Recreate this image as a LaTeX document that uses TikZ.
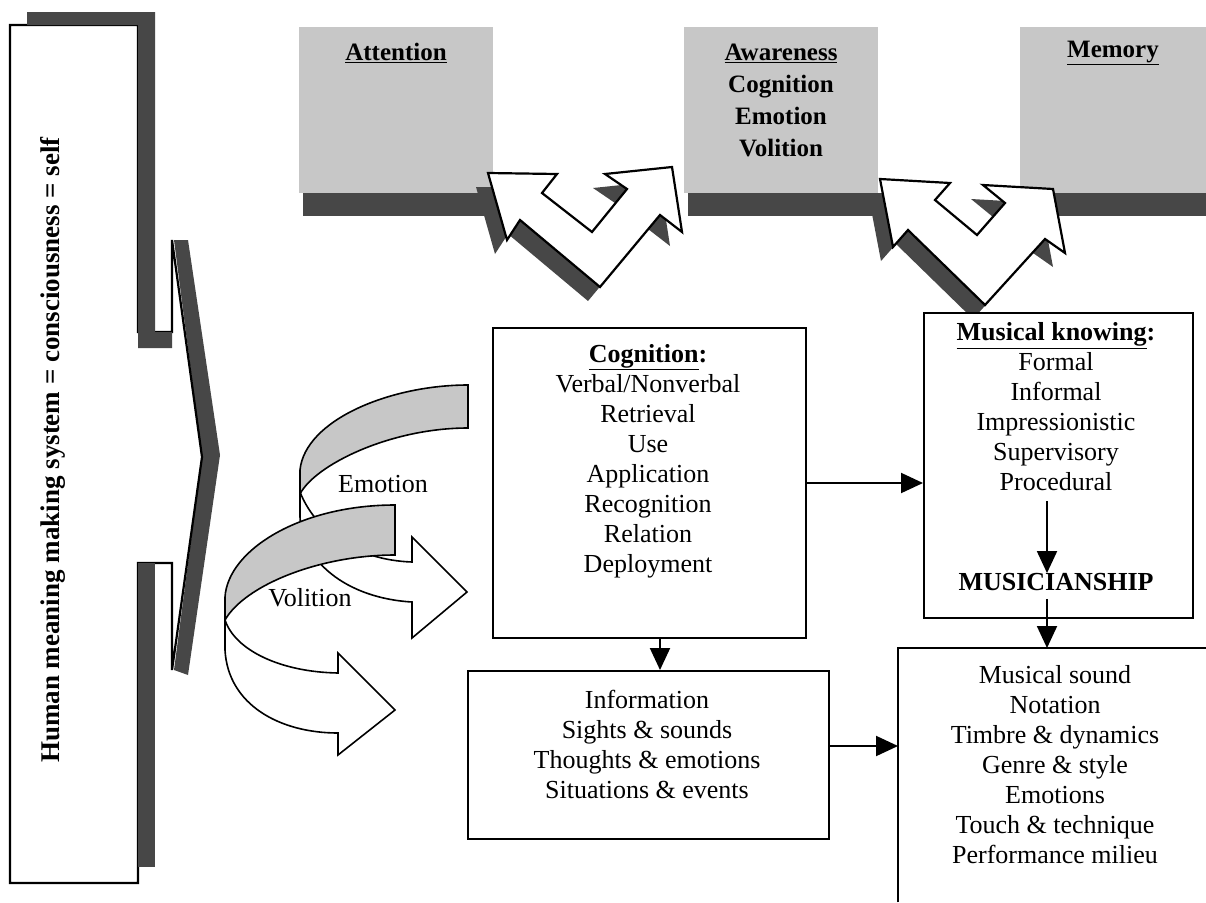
\documentclass[tikz,border=0pt]{standalone}
\usepackage{fontspec}
\setmainfont{Liberation Serif}
\usetikzlibrary{arrows.meta}
\begin{document}
\begin{tikzpicture}[x=1pt,y=-1pt,
  box/.style={draw, line width=2pt, inner sep=0pt, fill=white},
  topbox/.style={fill=black!22, inner sep=0pt},
  txt/.style={align=center, font=\fontsize{26}{30}\selectfont, inner sep=0pt},
  toptxt/.style={align=center, font=\fontsize{25}{32}\selectfont\bfseries, inner sep=0pt},
  arr/.style={line width=2pt, -{Triangle[length=22pt,width=20pt]}},
  lightshade/.style={fill=black!22},
  darkshade/.style={fill=black!72},
  outl/.style={draw, line width=2.2pt, line join=miter, fill=white}
]
\useasboundingbox (0,0) rectangle (1206,902);
\fill[white] (0,0) rectangle (1206,902);

% ---------- top boxes ----------
\node[topbox, minimum width=194, minimum height=166, anchor=north west] (attbox) at (299,27) {};
\node[topbox, minimum width=194, minimum height=166, anchor=north west] (awabox) at (684,27) {};
\node[topbox, minimum width=186, minimum height=166, anchor=north west] (membox) at (1020,27) {};
\fill[darkshade] (303,193) rectangle (500,216);
\fill[darkshade] (688,193) rectangle (885,216);
\fill[darkshade] (1024,193) rectangle (1206,216);
\node[toptxt] (att) at (396,53) {\underline{Attention}};
\node[toptxt] (awa) at (781,100) {\underline{Awareness}\\Cognition\\Emotion\\Volition};
\node[toptxt] (mem) at (1113,53) {\underline{Memory}};

% ---------- double arrows ----------
\fill[darkshade, shift={(-12,14)}] (488,173) -- (557,174) -- (542,193) -- (592,232) -- (627,189) -- (605,174) -- (672,167) -- (682,232) -- (660,215) -- (600,287) -- (520,220) -- (507,240) -- cycle;
\path[outl] (488,173) -- (557,174) -- (542,193) -- (592,232) -- (627,189) -- (605,174) -- (672,167) -- (682,232) -- (660,215) -- (600,287) -- (520,220) -- (507,240) -- cycle;
\fill[darkshade, shift={(-12,14)}] (880,179) -- (950,183) -- (935,200) -- (977,235) -- (1005,203) -- (983,185) -- (1053,189) -- (1065,253) -- (1045,239) -- (985,305) -- (908,230) -- (893,247) -- cycle;
\path[outl] (880,179) -- (950,183) -- (935,200) -- (977,235) -- (1005,203) -- (983,185) -- (1053,189) -- (1065,253) -- (1045,239) -- (985,305) -- (908,230) -- (893,247) -- cycle;

% ---------- left callout ----------
\fill[darkshade] (174,240) -- (188,240) -- (220,455) -- (188,675) -- (174,670) -- (202,457) -- cycle;
\path[outl] (10,25) -- (138,25) -- (138,332) -- (172,332) -- (172,240) -- (202,457) -- (172,670) -- (172,563) -- (138,563) -- (138,883) -- (10,883) -- cycle;
\fill[darkshade] (27,12) -- (155,12) -- (155,332) -- (172,332) -- (172,348) -- (138,348) -- (138,25) -- (27,25) -- cycle;
\fill[darkshade] (138,563) rectangle (155,867);
\node[rotate=90, font=\fontsize{27}{30}\selectfont\bfseries, inner sep=0pt] (self) at (53,450) {Human meaning making system = consciousness = self};

% ---------- curved ribbons ----------
% Emotion
\path[draw, line width=1.6pt, lightshade] (468,385) .. controls (390,385) and (305,420) .. (300,470) -- (300,494) .. controls (315,465) and (390,428) .. (468,428) -- cycle;
\path[draw, line width=1.6pt, fill=white] (300,492) -- (300,517) .. controls (302,560) and (345,598) .. (412,602) -- (412,638) -- (467,592) -- (412,537) -- (412,562) .. controls (355,560) and (315,530) .. (300,492) -- cycle;
% Volition
\path[draw, line width=1.6pt, fill=white] (225,620) -- (225,650) .. controls (228,705) and (280,733) .. (338,733) -- (338,755) -- (395,710) -- (338,653) -- (338,673) .. controls (280,672) and (235,650) .. (225,620) -- cycle;
\path[draw, line width=1.6pt, lightshade] (395,505) .. controls (300,505) and (228,550) .. (225,597) -- (225,620) .. controls (245,585) and (320,555) .. (395,555) -- cycle;
\node[txt] (emo) at (383,484) {Emotion};
\node[txt] (vol) at (310,598) {Volition};

% ---------- main boxes ----------
\node[box, minimum width=313, minimum height=310, anchor=north west] (cog) at (492,327) {};
\node[txt] (cogt) at (648,461) {\textbf{\underline{Cognition}:}\\Verbal/Nonverbal\\Retrieval\\Use\\Application\\Recognition\\Relation\\Deployment};

\node[box, minimum width=269, minimum height=305, anchor=north west] (mk) at (923,312) {};
\node[txt] (mkt) at (1056,407) {\textbf{\underline{Musical knowing}:}\\Formal\\Informal\\Impressionistic\\Supervisory\\Procedural};
\node[txt, font=\fontsize{26}{30}\selectfont\bfseries] (mus) at (1056,582) {MUSICIANSHIP};

\node[box, minimum width=361, minimum height=168, anchor=north west] (inf) at (467,670) {};
\node[txt] (inft) at (647,744) {Information\\Sights \& sounds\\Thoughts \& emotions\\Situations \& events};

\node[minimum width=308, minimum height=254, anchor=north west, inner sep=0pt] (snd) at (898,648) {};
\draw[line width=2pt] (snd.south west) -- (snd.north west) -- (snd.north east);
\node[txt] (sndt) at (1055,765) {Musical sound\\Notation\\Timbre \& dynamics\\Genre \& style\\Emotions\\Touch \& technique\\Performance milieu};

% ---------- connectors ----------
\coordinate (ax) at (1047,0);
\coordinate (cx) at (660,0);
\coordinate (ie) at ([yshift=9pt]inf.east);
\draw[arr] (cog.east) -- (cog.east -| mk.west);
\draw[arr, shorten <=10pt] (mkt.south -| ax) -- (mus.north -| ax);
\draw[arr, shorten <=8pt] (mus.south -| ax) -- (snd.north -| ax);
\draw[arr] (cog.south -| cx) -- (inf.north -| cx);
\draw[arr] (ie) -- (ie -| snd.west);
\end{tikzpicture}
\end{document}
